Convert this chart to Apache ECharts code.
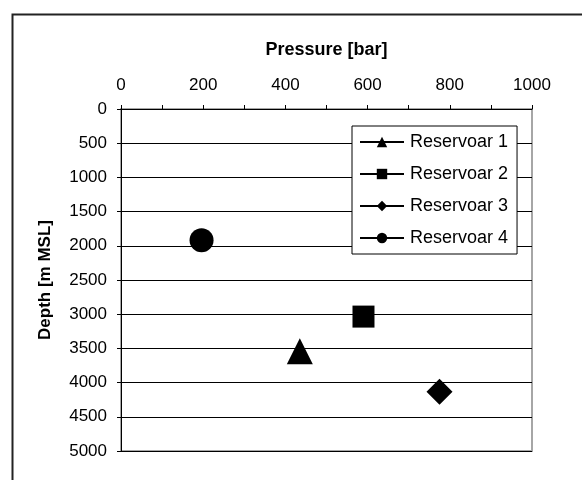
<!DOCTYPE html>
<html>
<head>
<meta charset="utf-8">
<script src="https://cdn.jsdelivr.net/npm/echarts@6/dist/echarts.min.js"></script>
<style>html,body{margin:0;padding:0;background:#fff}#c{width:582px;height:480px}</style>
</head>
<body>
<div id="c"></div>
<script>
const seriesNames = ['Reservoar 1', 'Reservoar 2', 'Reservoar 3', 'Reservoar 4'];
const pressure = [435, 590, 775, 196];
const depth = [3540, 3035, 4135, 1920];
const symbols = ['triangle', 'rect', 'diamond', 'circle'];
const xTicks = [0, 200, 400, 600, 800, 1000];
const yTicks = [0, 500, 1000, 1500, 2000, 2500, 3000, 3500, 4000, 4500, 5000];

const symbolSizes = [26, 22, 26, 24];
const FONT = 'Liberation Sans, Arial, sans-serif';

const chart = echarts.init(document.getElementById('c'), null, {renderer: 'canvas'});
chart.setOption({
  animation: false,
  backgroundColor: '#fff',
  graphic: [{
    type: 'rect', left: 10, top: 12, z: 0,
    shape: {width: 620, height: 520},
    style: {fill: 'none', stroke: '#222', lineWidth: 2}
  }],
  grid: {left: 121, top: 109, right: 50, bottom: 29, show: true, borderColor: '#a6a6a6', borderWidth: 2, backgroundColor: '#fff'},
  legend: {
    data: seriesNames,
    orient: 'vertical',
    left: 352, top: 126,
    padding: [7, 9, 7, 7],
    itemWidth: 44, itemHeight: 13, itemGap: 14,
    borderColor: '#000', borderWidth: 1, backgroundColor: '#fff',
    textStyle: {fontFamily: FONT, fontSize: 18, color: '#000', padding: [0, 0, 0, 1]}
  },
  xAxis: {
    type: 'value', position: 'top', min: xTicks[0], max: xTicks[xTicks.length - 1], interval: 200,
    name: 'Pressure [bar]', nameLocation: 'middle', nameGap: 50,
    nameTextStyle: {fontFamily: FONT, fontSize: 18, fontWeight: 'bold', color: '#000'},
    axisLine: {show: true, lineStyle: {color: '#000', width: 1}},
    axisTick: {show: true, length: 4, lineStyle: {color: '#000'}},
    minorTick: {show: true, splitNumber: 2, length: 4, lineStyle: {color: '#000'}},
    axisLabel: {fontFamily: FONT, fontSize: 17, color: '#000', margin: 15, formatter: v => String(v)},
    splitLine: {show: false}
  },
  yAxis: {
    type: 'value', inverse: true, min: yTicks[0], max: yTicks[yTicks.length - 1], interval: 500,
    name: 'Depth [m MSL]', nameLocation: 'middle', nameGap: 67,
    nameTextStyle: {fontFamily: FONT, fontSize: 17, fontWeight: 'bold', color: '#000'},
    axisLine: {show: true, lineStyle: {color: '#000', width: 1}},
    axisTick: {show: true, length: 4, lineStyle: {color: '#000'}},
    axisLabel: {fontFamily: FONT, fontSize: 17, color: '#000', margin: 14, formatter: v => String(v)},
    splitLine: {show: true, lineStyle: {color: '#000', width: 1}}
  },
  series: seriesNames.map((n, i) => ({
    name: n, type: 'line',
    data: [[pressure[i], depth[i]]],
    symbol: symbols[i], symbolSize: symbolSizes[i],
    itemStyle: {color: '#000'},
    lineStyle: {color: '#000', width: 1.5},
    z: 5
  }))
});
</script>
</body>
</html>
